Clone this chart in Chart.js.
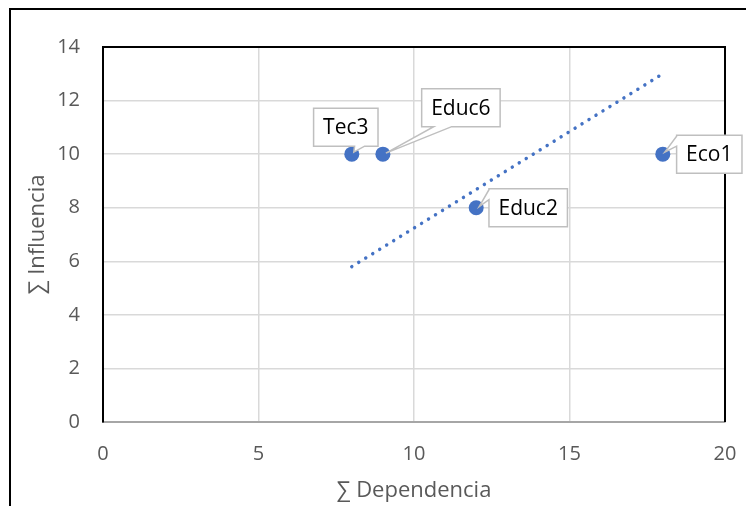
<!DOCTYPE html>
<html>
<head>
<meta charset="utf-8">
<script src="https://cdn.jsdelivr.net/npm/chart.js@4.4.0/dist/chart.umd.min.js"></script>
<style>
  html, body { margin: 0; padding: 0; background: #ffffff; overflow: hidden; }
  canvas { display: block; }
</style>
</head>
<body>
<canvas id="chart" width="746" height="506"></canvas>
<script>
// Variables: names, dependence (x) and influence (y)
const pointNames = ['Tec3', 'Educ6', 'Educ2', 'Eco1'];
const dependencia = [8, 9, 12, 18];
const influencia = [10, 10, 8, 10];

// Linear trend line end points
const trendX = [8, 18];
const trendY = [5.8, 13.0];

// Axis ticks
const xTicks = [0, 5, 10, 15, 20];
const yTicks = [0, 2, 4, 6, 8, 10, 12, 14];

const BLUE = '#4472C4';
const GRID = '#d9d9d9';
const TICK_COLOR = '#595959';
const FONT = "'Open Sans', 'DejaVu Sans', sans-serif";

// Callout placement for each data label (offsets from the point, in px)
const calloutStyle = [
  { dx: -6,   dy: -27,   edge: 'bottom', a: 41, b: 51, tx: 2, ty: -2 },
  { dx: 78,   dy: -46.5, edge: 'bottom', a: 12, b: 30, tx: 3, ty: -1 },
  { dx: 52,   dy: 0,     edge: 'left',   a: 1,  b: 11, tx: 3, ty: -1 },
  { dx: 46.5, dy: 0,     edge: 'left',   a: 1,  b: 11, tx: 2, ty: -2 }
];

const points = dependencia.map((x, i) => ({ x: x, y: influencia[i] }));
const trend = trendX.map((x, i) => ({ x: x, y: trendY[i] }));

// Outer frame and the black top/right edges of the plot box
const framePlugin = {
  id: 'frame',
  beforeDraw(chart) {
    const ctx = chart.ctx;
    ctx.save();
    ctx.strokeStyle = '#000000';
    ctx.lineWidth = 2;
    ctx.beginPath();
    ctx.moveTo(10, chart.height);
    ctx.lineTo(10, 9);
    ctx.lineTo(chart.width, 9);
    ctx.stroke();
    ctx.restore();
  },
  beforeDatasetsDraw(chart) {
    const { ctx, chartArea } = chart;
    ctx.save();
    ctx.strokeStyle = '#000000';
    ctx.lineWidth = 2;
    ctx.beginPath();
    ctx.moveTo(chartArea.left, chartArea.top);
    ctx.lineTo(chartArea.right, chartArea.top);
    ctx.lineTo(chartArea.right, chartArea.bottom);
    ctx.stroke();
    ctx.restore();
  }
};

// Data labels drawn as callout boxes pointing at their markers
const calloutPlugin = {
  id: 'callouts',
  afterDatasetsDraw(chart) {
    const ctx = chart.ctx;
    const meta = chart.getDatasetMeta(0);
    ctx.save();
    ctx.font = "21px " + FONT;
    meta.data.forEach((el, i) => {
      const s = calloutStyle[i];
      const text = pointNames[i];
      const w = ctx.measureText(text).width + 19;
      const h = 38;
      const cx = el.x + s.dx, cy = el.y + s.dy;
      const x0 = cx - w / 2, y0 = cy - h / 2, x1 = cx + w / 2, y1 = cy + h / 2;
      const tipX = el.x + s.tx, tipY = el.y + s.ty;
      ctx.beginPath();
      ctx.moveTo(x0, y0);
      ctx.lineTo(x1, y0);
      ctx.lineTo(x1, y1);
      if (s.edge === 'bottom') {
        ctx.lineTo(x0 + s.b, y1);
        ctx.lineTo(tipX, tipY);
        ctx.lineTo(x0 + s.a, y1);
        ctx.lineTo(x0, y1);
      } else {
        ctx.lineTo(x0, y1);
        ctx.lineTo(x0, y0 + s.b);
        ctx.lineTo(tipX, tipY);
        ctx.lineTo(x0, y0 + s.a);
      }
      ctx.closePath();
      ctx.fillStyle = '#ffffff';
      ctx.fill();
      ctx.strokeStyle = '#bfbfbf';
      ctx.lineWidth = 1.5;
      ctx.lineJoin = 'miter';
      ctx.stroke();
      ctx.fillStyle = '#000000';
      ctx.textAlign = 'center';
      ctx.textBaseline = 'middle';
      ctx.fillText(text, cx, cy + 1);
    });
    ctx.restore();
  }
};

new Chart(document.getElementById('chart'), {
  type: 'scatter',
  data: {
    datasets: [
      {
        label: 'Variables',
        data: points,
        backgroundColor: BLUE,
        borderColor: BLUE,
        pointRadius: 7.5,
        pointBorderWidth: 0,
        showLine: false
      },
      {
        label: 'Lineal',
        data: trend,
        showLine: true,
        pointRadius: 0,
        borderColor: BLUE,
        borderWidth: 3.5,
        borderDash: [0.01, 8.2],
        borderCapStyle: 'round',
        fill: false
      }
    ]
  },
  options: {
    responsive: false,
    animation: false,
    devicePixelRatio: 1,
    layout: { padding: { top: 47, right: 21, left: 0, bottom: 0 } },
    plugins: {
      legend: { display: false },
      tooltip: { enabled: false }
    },
    scales: {
      x: {
        type: 'linear',
        min: 0,
        max: 20,
        afterBuildTicks: (s) => { s.ticks = xTicks.map(v => ({ value: v })); },
        afterFit: (s) => { s.height = 84; s.paddingLeft = 0; s.paddingRight = 0; },
        grid: { color: GRID, lineWidth: 1.5, drawTicks: false },
        border: { color: '#a6a6a6', width: 2 },
        ticks: { padding: 20, color: TICK_COLOR, font: { family: FONT, size: 20 } },
        title: {
          display: true,
          text: '∑ Dependencia',
          color: TICK_COLOR,
          font: { family: FONT, size: 22 },
          padding: { top: 0, bottom: 2 }
        }
      },
      y: {
        type: 'linear',
        min: 0,
        max: 14,
        afterBuildTicks: (s) => { s.ticks = yTicks.map(v => ({ value: v })); },
        afterFit: (s) => { s.width = 103; s.paddingTop = 0; s.paddingBottom = 0; },
        grid: { color: GRID, lineWidth: 1.5, drawTicks: false },
        border: { color: '#000000', width: 2 },
        ticks: { padding: 23, color: TICK_COLOR, font: { family: FONT, size: 20 } },
        title: {
          display: true,
          text: '∑ Influencia',
          color: TICK_COLOR,
          font: { family: FONT, size: 22 },
          padding: { top: 25, bottom: 0 }
        }
      }
    }
  },
  plugins: [framePlugin, calloutPlugin]
});
</script>
</body>
</html>
